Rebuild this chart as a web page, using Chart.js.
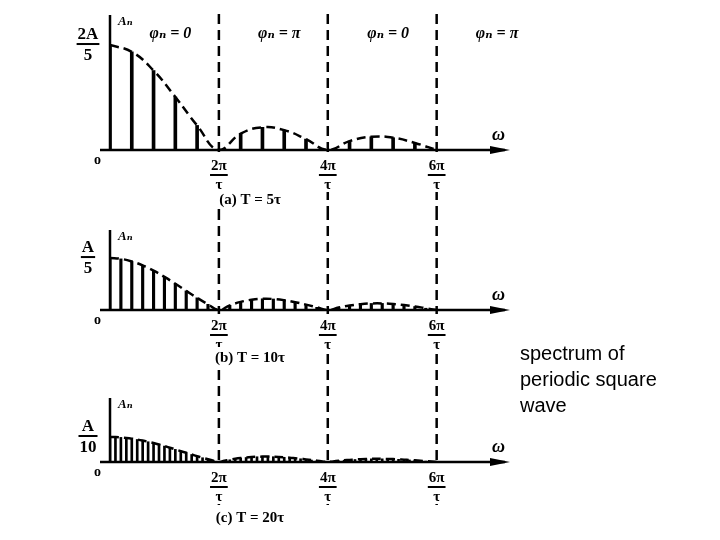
<!DOCTYPE html>
<html>
<head>
<meta charset="utf-8">
<script src="https://cdn.jsdelivr.net/npm/chart.js@4"></script>
<style>
  body { margin: 0; background: #fff; width: 720px; height: 540px; position: relative; overflow: hidden; }
  .panel { position: absolute; left: 0; width: 720px; }
  #note { position: absolute; left: 520px; top: 340px; font: 20px "Liberation Sans", Arial, sans-serif; line-height: 26px; color: #000; }
</style>
</head>
<body>
<div class="panel" style="top:0;height:210px"><canvas id="c1"></canvas></div>
<div class="panel" style="top:210px;height:160px"><canvas id="c2"></canvas></div>
<div class="panel" style="top:370px;height:170px"><canvas id="c3"></canvas></div>
<div id="note">spectrum of<br>periodic square<br>wave</div>
<script>
// harmonic amplitudes relative to the DC line (|sin x / x|)
const ampA = [1, 0.935, 0.757, 0.505, 0.234, 0, 0.156, 0.216, 0.189, 0.104, 0, 0.085, 0.126, 0.117, 0.067, 0];
const ampB = [1, 0.984, 0.935, 0.858, 0.757, 0.637, 0.505, 0.368, 0.234, 0.109, 0,
  0.089, 0.156, 0.198, 0.216, 0.212, 0.189, 0.151, 0.104, 0.052, 0,
  0.047, 0.085, 0.112, 0.126, 0.127, 0.117, 0.095, 0.067, 0.034, 0];
const ampC = [1, 0.996, 0.984, 0.963, 0.935, 0.900, 0.858, 0.810, 0.757, 0.699, 0.637,
  0.572, 0.505, 0.436, 0.368, 0.300, 0.234, 0.170, 0.109, 0.052, 0,
  0.047, 0.089, 0.126, 0.156, 0.180, 0.198, 0.210, 0.216, 0.217, 0.212,
  0.203, 0.189, 0.172, 0.151, 0.129, 0.104, 0.078, 0.052, 0.025, 0,
  0.024, 0.047, 0.067, 0.085, 0.100, 0.112, 0.121, 0.126, 0.128, 0.127,
  0.123, 0.117, 0.107, 0.095, 0.082, 0.067, 0.051, 0.034, 0.017, 0];
const xTicks = ["2π", "4π", "6π"];
const phases = ["φₙ = 0", "φₙ = π", "φₙ = 0", "φₙ = π"];

const SERIF = '"Liberation Serif", "DejaVu Serif", serif';

function fraction(ctx, x, y, num, den, size) {
  ctx.font = "bold " + size + "px " + SERIF;
  ctx.textAlign = "center";
  ctx.textBaseline = "alphabetic";
  ctx.fillText(num, x, y);
  const w = Math.max(ctx.measureText(num).width, ctx.measureText(den).width) + 2;
  ctx.fillRect(x - w / 2, y + 4, w, 2);
  ctx.fillText(den, x, y + size + 4);
}

function makePanel(id, amps, perLobe, cfg) {
  const pts = amps.map((v, i) => ({ x: i / perLobe, y: v }));
  const deco = {
    id: "deco",
    afterDraw(chart) {
      const { ctx, scales: { x, y } } = chart;
      const x0 = x.getPixelForValue(0), y0 = y.getPixelForValue(0);
      ctx.save();
      ctx.fillStyle = "#000";
      ctx.strokeStyle = "#000";
      // axes
      ctx.lineWidth = 2.5;
      ctx.beginPath();
      ctx.moveTo(x0 - 10, y0); ctx.lineTo(505, y0);
      ctx.moveTo(x0, y0); ctx.lineTo(x0, chart.chartArea.top);
      ctx.stroke();
      ctx.beginPath();
      ctx.moveTo(510, y0); ctx.lineTo(490, y0 - 4); ctx.lineTo(490, y0 + 4); ctx.fill();
      // vertical dashed guides
      ctx.setLineDash([10, 6]);
      ctx.lineWidth = 2.5;
      [1, 2, 3].forEach(k => {
        const px = x.getPixelForValue(k);
        ctx.beginPath(); ctx.moveTo(px, cfg.guideTop || 0); ctx.lineTo(px, cfg.guideEnd || chart.height); ctx.stroke();
      });
      ctx.setLineDash([]);
      // labels
      ctx.font = "italic bold 18px " + SERIF;
      ctx.textAlign = "left";
      ctx.fillText("ω", 492, y0 - 10);
      ctx.font = "bold 14px " + SERIF;
      ctx.fillText("o", x0 - 16, y0 + 14);
      ctx.font = "italic bold 13px " + SERIF;
      ctx.fillText("Aₙ", x0 + 8, chart.chartArea.top + 10);
      fraction(ctx, x0 - 22, y.getPixelForValue(1) - 6, cfg.yNum, cfg.yDen, 17);
      xTicks.forEach((t, k) => {
        const px = x.getPixelForValue(k + 1);
        ctx.fillStyle = "#fff";
        ctx.fillRect(px - 14, y0 + 4, 28, 38);
        ctx.fillStyle = "#000";
        fraction(ctx, px, y0 + 20, t, "τ", 15);
      });
      ctx.font = "bold 15px " + SERIF;
      ctx.textAlign = "center";
      ctx.fillStyle = "#fff";
      ctx.fillRect(190, y0 + cfg.capDy - 15, 120, 20);
      ctx.fillStyle = "#000";
      ctx.fillText(cfg.caption, 250, y0 + cfg.capDy);
      if (cfg.phases) {
        ctx.font = "italic bold 16px " + SERIF;
        phases.forEach((p, k) => {
          const px = x.getPixelForValue(k + 0.5);
          ctx.fillText(p, px + 6, 38);
        });
      }
      ctx.restore();
    }
  };
  return new Chart(document.getElementById(id), {
    data: {
      datasets: [
        { type: "bar", data: pts, backgroundColor: "#000", barThickness: cfg.stem, order: 2 },
        { type: "line", data: pts, borderColor: "#000", borderWidth: 2.5, borderDash: [9, 5],
          tension: 0.45, pointRadius: 0, fill: false, order: 1 }
      ]
    },
    options: {
      responsive: true, maintainAspectRatio: false, animation: false,
      layout: { padding: { left: 110, right: 218, top: cfg.top, bottom: cfg.bottom } },
      plugins: { legend: { display: false }, tooltip: { enabled: false } },
      scales: {
        x: { type: "linear", min: 0, max: 3.6, offset: false, display: false },
        y: { min: 0, max: cfg.yMax, display: false }
      }
    },
    plugins: [deco]
  });
}

makePanel("c1", ampA, 5, { top: 15, bottom: 60, yMax: 1.286, yNum: "2A", yDen: "5", stem: 3,
  caption: "(a) T = 5τ", capDy: 54, phases: true, guideTop: 14 });
makePanel("c2", ampB, 10, { top: 20, bottom: 60, yMax: 1.54, yNum: "A", yDen: "5", stem: 2.5,
  caption: "(b) T = 10τ", capDy: 52 });
makePanel("c3", ampC, 20, { top: 28, bottom: 78, yMax: 2.56, yNum: "A", yDen: "10", stem: 2,
  caption: "(c) T = 20τ", capDy: 60, guideEnd: 135 });
</script>
</body>
</html>
